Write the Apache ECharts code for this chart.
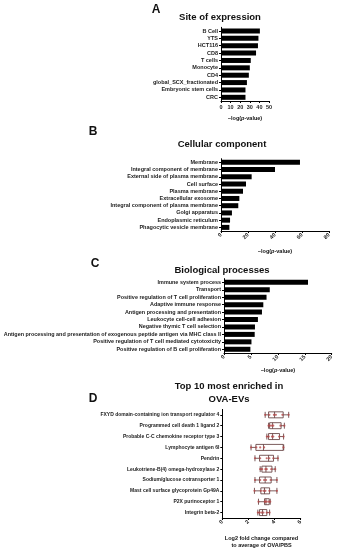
<!DOCTYPE html>
<html><head><meta charset="utf-8">
<script src="https://cdn.jsdelivr.net/npm/echarts@6/dist/echarts.min.js"></script>
<style>html,body{margin:0;padding:0;background:#fff}#c{width:339px;height:550px}</style>
</head><body><div id="c"></div>
<script>
// Panel A
const siteCats = ['B Cell','YTS','HCT116','CD8','T cells','Monocyte','CD4','global_SCX_fractionated','Embryonic stem cells','CRC'];
const siteVals = [40.5, 39, 38.5, 36.5, 31, 30, 29, 27, 25.5, 25.5];
const siteTicks = [0, 10, 20, 30, 40, 50];
// Panel B
const ccCats = ['Membrane','Integral component of membrane','External side of plasma membrane','Cell surface','Plasma membrane','Extracellular exosome','Integral component of plasma membrane','Golgi apparatus','Endoplasmic reticulum','Phagocytic vesicle membrane'];
const ccVals = [58.5, 40, 22.7, 18.5, 16.3, 13.6, 12.8, 8.1, 6.7, 6.2];
const ccTicks = [0, 20, 40, 60, 80];
// Panel C
const bpCats = ['Immune system process','Transport','Positive regulation of T cell proliferation','Adaptive immune response','Antigen processing and presentation','Leukocyte cell-cell adhesion','Negative thymic T cell selection','Antigen processing and presentation of exogenous peptide antigen via MHC class II','Positive regulation of T cell mediated cytotoxicity','Positive regulation of B cell proliferation'];
const bpVals = [15.6, 8.5, 7.9, 7.3, 7.05, 6.3, 5.75, 5.7, 5.1, 4.9];
const bpTicks = [0, 5, 10, 15, 20];
// Panel D
const topCats = ['FXYD domain-containing ion transport regulator 4','Programmed cell death 1 ligand 2','Probable C-C chemokine receptor type 3','Lymphocyte antigen 6I','Pendrin','Leukotriene-B(4) omega-hydroxylase 2','Sodium/glucose cotransporter 1','Mast cell surface glycoprotein Gp49A','P2X purinoceptor 1','Integrin beta-2'];
const topBoxes = [
  [3.28, 3.54, 4.0, 4.66, 5.08],
  [3.54, 3.62, 3.85, 4.5, 4.75],
  [3.41, 3.54, 3.85, 4.38, 4.69],
  [2.2, 2.57, 3.15, 4.66, 4.7],
  [2.5, 2.85, 3.54, 3.92, 4.26],
  [2.9, 3.03, 3.34, 3.8, 4.05],
  [2.5, 2.85, 3.28, 3.74, 4.18],
  [2.46, 2.95, 3.23, 3.62, 4.18],
  [2.77, 3.23, 3.34, 3.59, 3.67],
  [2.72, 2.85, 3.08, 3.41, 3.62]
];
const topPoints = [
  [3.28, 3.6, 3.95, 4.1, 4.6, 5.08],
  [3.54, 3.65, 3.8, 3.9, 4.45, 4.75],
  [3.41, 3.55, 3.8, 3.9, 4.35, 4.69],
  [2.2, 2.6, 2.9, 3.2, 4.68],
  [2.5, 2.9, 3.4, 3.6, 3.9, 4.26],
  [2.9, 3.05, 3.3, 3.4, 3.75, 4.05],
  [2.5, 2.9, 3.2, 3.35, 3.7, 4.18],
  [2.46, 2.95, 3.15, 3.3, 3.6, 4.18],
  [2.77, 3.25, 3.3, 3.4, 3.55, 3.67],
  [2.72, 2.85, 3.0, 3.15, 3.4, 3.62]
];
const topTicks = [0, 2, 4, 6];

const FONT = '"Liberation Sans", Arial, sans-serif';
const chart = echarts.init(document.getElementById('c'), null, {renderer: 'canvas'});

function xAx(idx, ticks, rotate, name, gap) {
  return {
    type: 'value', gridIndex: idx,
    min: ticks[0], max: ticks[ticks.length - 1], interval: ticks[1] - ticks[0],
    splitLine: {show: false},
    axisLine: {show: true, lineStyle: {color: '#000', width: 1}},
    axisTick: {show: true, length: 2, lineStyle: {color: '#000'}},
    axisLabel: {fontSize: 5.5, fontWeight: 'bold', color: '#222', fontFamily: FONT, margin: 3, rotate: rotate},
    name: name, nameLocation: 'middle', nameGap: gap,
    nameTextStyle: {fontSize: 5.5, fontWeight: 'bold', color: '#111', fontFamily: FONT, lineHeight: 7,
      rich: {a: {fontSize: 5.5, fontWeight: 'bold', color: '#111', fontFamily: FONT},
             i: {fontSize: 5.5, fontWeight: 'bold', fontStyle: 'italic', color: '#111', fontFamily: FONT}}}
  };
}
function yAx(idx, cats, fs) {
  return {
    type: 'category', gridIndex: idx, data: cats, inverse: true,
    axisLine: {show: true, lineStyle: {color: '#000', width: 1}},
    axisTick: {show: true, length: 2, alignWithLabel: true, interval: 0, lineStyle: {color: '#000'}},
    axisLabel: {interval: 0, fontSize: fs, fontWeight: 'bold', color: '#222', fontFamily: FONT, margin: 3}
  };
}

const logName = '{a|−log(}{i|p}{a|-value)}';

const option = {
  animation: false,
  backgroundColor: '#fff',
  grid: [
    {left: 221, width: 48, top: 27.3, height: 73.7},
    {left: 221, width: 108, top: 158.7, height: 72.3},
    {left: 224, width: 107.7, top: 278.6, height: 74.4},
    {left: 222.3, width: 78.4, top: 409.4, height: 112.6}
  ],
  xAxis: [
    xAx(0, siteTicks, 0, logName, 14),
    xAx(1, ccTicks, 45, logName, 17),
    xAx(2, bpTicks, 45, logName, 14),
    xAx(3, topTicks, 45, 'Log2 fold change compared\nto average of OVA/PBS', 17)
  ],
  yAxis: [
    yAx(0, siteCats, 5.5),
    yAx(1, ccCats, 5.5),
    yAx(2, bpCats, 5.45),
    yAx(3, topCats, 5.0)
  ],
  graphic: [
    {type: 'text', x: 156, y: 10, style: {text: 'A', fontSize: 12, fontWeight: 'bold', fontFamily: FONT, fill: '#111', textAlign: 'center', textVerticalAlign: 'middle'}},
    {type: 'text', x: 93, y: 132, style: {text: 'B', fontSize: 12, fontWeight: 'bold', fontFamily: FONT, fill: '#111', textAlign: 'center', textVerticalAlign: 'middle'}},
    {type: 'text', x: 95, y: 264, style: {text: 'C', fontSize: 12, fontWeight: 'bold', fontFamily: FONT, fill: '#111', textAlign: 'center', textVerticalAlign: 'middle'}},
    {type: 'text', x: 93, y: 399, style: {text: 'D', fontSize: 12, fontWeight: 'bold', fontFamily: FONT, fill: '#111', textAlign: 'center', textVerticalAlign: 'middle'}},
    {type: 'text', x: 220, y: 17, style: {text: 'Site of expression', fontSize: 9.5, fontWeight: 'bold', fontFamily: FONT, fill: '#111', textAlign: 'center', textVerticalAlign: 'middle'}},
    {type: 'text', x: 222, y: 144, style: {text: 'Cellular component', fontSize: 9.5, fontWeight: 'bold', fontFamily: FONT, fill: '#111', textAlign: 'center', textVerticalAlign: 'middle'}},
    {type: 'text', x: 222, y: 270, style: {text: 'Biological processes', fontSize: 9.5, fontWeight: 'bold', fontFamily: FONT, fill: '#111', textAlign: 'center', textVerticalAlign: 'middle'}},
    {type: 'text', x: 229, y: 386, style: {text: 'Top 10 most enriched in', fontSize: 9.5, fontWeight: 'bold', fontFamily: FONT, fill: '#111', textAlign: 'center', textVerticalAlign: 'middle'}},
    {type: 'text', x: 229, y: 399, style: {text: 'OVA-EVs', fontSize: 9.5, fontWeight: 'bold', fontFamily: FONT, fill: '#111', textAlign: 'center', textVerticalAlign: 'middle'}}
  ],
  series: [
    {type: 'bar', xAxisIndex: 0, yAxisIndex: 0, data: siteVals, barWidth: 5, itemStyle: {color: '#000'}},
    {type: 'bar', xAxisIndex: 1, yAxisIndex: 1, data: ccVals, barWidth: 5, itemStyle: {color: '#000'}},
    {type: 'bar', xAxisIndex: 2, yAxisIndex: 2, data: bpVals, barWidth: 5, itemStyle: {color: '#000'}},
    {type: 'boxplot', xAxisIndex: 3, yAxisIndex: 3, data: topBoxes, boxWidth: [6, 6],
      itemStyle: {color: '#fff', borderColor: '#5a3333', borderWidth: 0.8}},
    {type: 'scatter', xAxisIndex: 3, yAxisIndex: 3, symbolSize: 2.2, z: 5,
      itemStyle: {color: '#b84a4a'},
      data: topPoints.flatMap((pts, i) => pts.map(v => [v, topCats[i]]))}
  ]
};
chart.setOption(option);
</script></body></html>
